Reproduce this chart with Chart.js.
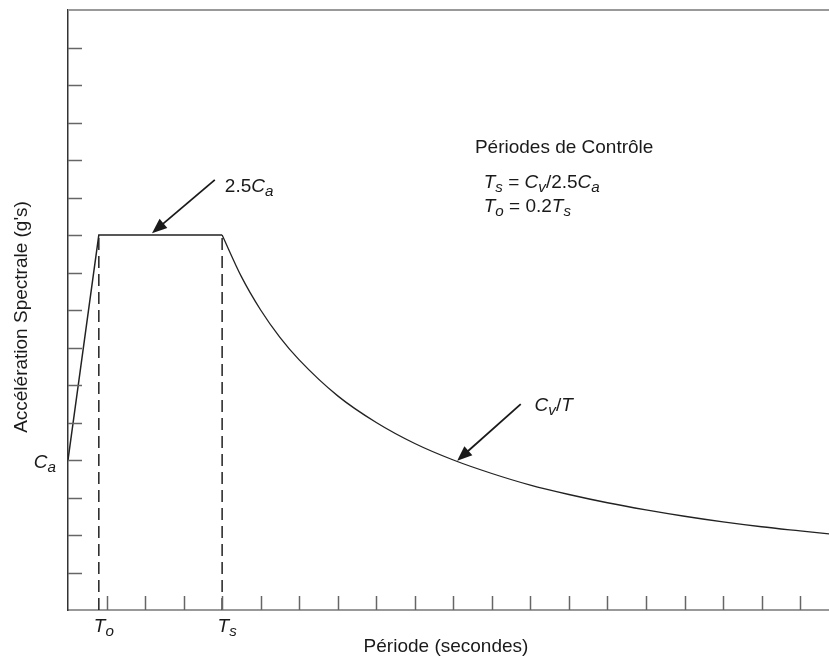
<!DOCTYPE html>
<html lang="fr">
<head>
<meta charset="utf-8">
<script src="https://cdn.jsdelivr.net/npm/chart.js"></script>
<style>
  html, body { margin: 0; padding: 0; background: #fff; }
  #wrap { width: 829px; height: 657px; }
</style>
</head>
<body>
<div id="wrap"><canvas id="spectre"></canvas></div>
<script>
// valeurs (période en unités de graduation, accélération en graduations)
const rampeT = [0, 0.8, 4];
const rampeSa = [4, 10, 10];
const courbeT = [4, 4.5, 5, 5.5, 6, 7, 8, 9, 10, 11, 12, 13, 14, 15, 16, 17, 18, 19, 19.75];
const courbeSa = [10, 8.89, 8, 7.27, 6.67, 5.71, 5, 4.44, 4, 3.64, 3.33, 3.08, 2.86, 2.67, 2.5, 2.35, 2.22, 2.11, 2.03];
const periodesT = [0.8, 4];          // To, Ts
const periodesSa = [10, 10];         // hauteur du plateau 2.5Ca
const periodesNoms = ['o', 's'];
const valeurCa = 4;
const xGrad = [1, 2, 3, 4, 5, 6, 7, 8, 9, 10, 11, 12, 13, 14, 15, 16, 17, 18, 19];
const yGrad = [1, 2, 3, 4, 5, 6, 7, 8, 9, 10, 11, 12, 13, 14, 15];
const xMax = 19.75;
const yMax = 16;

const pts = (xs, ys) => xs.map((v, i) => ({ x: v, y: ys[i] }));
const FONT = '"Liberation Sans", Arial, sans-serif';
const SIZE = 19;

// texte avec italiques / indices
function runs(ctx, parts, x, yb, size, align) {
  const fnt = p => (p.i ? 'italic ' : '') + (p.sub ? size * 0.8 : size) + 'px ' + FONT;
  const w = parts.reduce((s, p) => {
    ctx.font = fnt(p);
    return s + ctx.measureText(p.t).width;
  }, 0);
  let cx = align === 'center' ? x - w / 2 : align === 'right' ? x - w : x;
  ctx.textAlign = 'left';
  ctx.textBaseline = 'alphabetic';
  parts.forEach(p => {
    ctx.font = fnt(p);
    ctx.fillText(p.t, cx, yb + (p.sub ? size * 0.22 : 0));
    cx += ctx.measureText(p.t).width;
  });
}

function fleche(ctx, x0, y0, x1, y1) {
  const ang = Math.atan2(y1 - y0, x1 - x0);
  const L = 15, W = 6;
  ctx.beginPath();
  ctx.moveTo(x0, y0);
  ctx.lineTo(x1 - Math.cos(ang) * L * 0.8, y1 - Math.sin(ang) * L * 0.8);
  ctx.lineWidth = 1.8;
  ctx.stroke();
  ctx.beginPath();
  ctx.moveTo(x1, y1);
  ctx.lineTo(x1 - Math.cos(ang) * L - Math.sin(ang) * W, y1 - Math.sin(ang) * L + Math.cos(ang) * W);
  ctx.lineTo(x1 - Math.cos(ang) * L + Math.sin(ang) * W, y1 - Math.sin(ang) * L - Math.cos(ang) * W);
  ctx.closePath();
  ctx.fill();
}

const decor = {
  id: 'decor',
  afterDraw(chart) {
    const { ctx, chartArea: a, scales: { x, y } } = chart;
    const px = v => x.getPixelForValue(v);
    const py = v => y.getPixelForValue(v);
    ctx.save();

    // cadre du haut
    ctx.strokeStyle = '#999';
    ctx.lineWidth = 2;
    ctx.beginPath();
    ctx.moveTo(a.left, a.top);
    ctx.lineTo(a.right, a.top);
    ctx.stroke();

    // graduations vers l'intérieur
    ctx.strokeStyle = '#666';
    ctx.lineWidth = 1.5;
    yGrad.forEach(v => {
      const p = Math.round(py(v)) + 0.5;
      ctx.beginPath(); ctx.moveTo(a.left, p); ctx.lineTo(a.left + 14, p); ctx.stroke();
    });
    xGrad.forEach(v => {
      const p = Math.round(px(v)) + 0.5;
      ctx.beginPath(); ctx.moveTo(p, a.bottom); ctx.lineTo(p, a.bottom - 14); ctx.stroke();
    });

    ctx.fillStyle = '#1a1a1a';
    ctx.strokeStyle = '#1a1a1a';

    // flèches
    fleche(ctx, px(3.81), py(11.47), px(2.18), py(10.05));
    fleche(ctx, px(11.75), py(5.49), px(10.1), py(3.98));

    // annotations
    runs(ctx, [{ t: '2.5' }, { t: 'C', i: 1 }, { t: 'a', i: 1, sub: 1 }], px(4.07), py(11.15), SIZE);
    runs(ctx, [{ t: 'Périodes de Contrôle' }], px(10.56), py(12.19), SIZE);
    runs(ctx, [{ t: 'T', i: 1 }, { t: 's', i: 1, sub: 1 }, { t: ' = ' }, { t: 'C', i: 1 }, { t: 'v', i: 1, sub: 1 },
               { t: '/2.5' }, { t: 'C', i: 1 }, { t: 'a', i: 1, sub: 1 }], px(10.79), py(11.25), SIZE);
    runs(ctx, [{ t: 'T', i: 1 }, { t: 'o', i: 1, sub: 1 }, { t: ' = 0.2' }, { t: 'T', i: 1 }, { t: 's', i: 1, sub: 1 }],
         px(10.79), py(10.62), SIZE);
    runs(ctx, [{ t: 'C', i: 1 }, { t: 'v', i: 1, sub: 1 }, { t: '/' }, { t: 'T', i: 1 }], px(12.11), py(5.31), SIZE);

    // étiquettes hors du graphe
    runs(ctx, [{ t: 'C', i: 1 }, { t: 'a', i: 1, sub: 1 }], a.left - 12, py(valeurCa) + 8, SIZE, 'right');
    periodesT.forEach((v, i) => {
      runs(ctx, [{ t: 'T', i: 1 }, { t: periodesNoms[i], i: 1, sub: 1 }], px(v) + 5, a.bottom + 22, SIZE, 'center');
    });

    // titres des axes
    ctx.font = SIZE + 'px ' + FONT;
    ctx.textAlign = 'center';
    ctx.textBaseline = 'middle';
    ctx.fillText('Période (secondes)', a.left + 378, a.bottom + 37);
    ctx.save();
    ctx.translate(22, (a.top + a.bottom) / 2 + 7);
    ctx.rotate(-Math.PI / 2);
    ctx.fillText("Accélération Spectrale (g's)", 0, 0);
    ctx.restore();

    ctx.restore();
  }
};

new Chart(document.getElementById('spectre'), {
  type: 'line',
  data: {
    datasets: [
      { data: pts(rampeT, rampeSa), borderColor: '#222', borderWidth: 1.5, tension: 0 },
      { data: pts(courbeT, courbeSa), borderColor: '#222', borderWidth: 1.3, cubicInterpolationMode: 'monotone' },
      { data: pts([periodesT[0], periodesT[0]], [0, periodesSa[0]]), borderColor: '#222', borderWidth: 1.5, borderDash: [12, 6] },
      { data: pts([periodesT[1], periodesT[1]], [0, periodesSa[1]]), borderColor: '#222', borderWidth: 1.5, borderDash: [12, 6] }
    ]
  },
  options: {
    responsive: true,
    maintainAspectRatio: false,
    animation: false,
    layout: { padding: { left: 68, top: 10, right: 0, bottom: 47 } },
    elements: { point: { radius: 0 } },
    plugins: { legend: { display: false }, tooltip: { enabled: false } },
    scales: {
      x: {
        type: 'linear', min: 0, max: xMax,
        ticks: { display: false, stepSize: 1 },
        grid: { display: false, drawTicks: false },
        border: { color: '#999', width: 2 }
      },
      y: {
        type: 'linear', min: 0, max: yMax,
        ticks: { display: false, stepSize: 1 },
        grid: { display: false, drawTicks: false },
        border: { color: '#333', width: 1.5 }
      }
    }
  },
  plugins: [decor]
});
</script>
</body>
</html>
